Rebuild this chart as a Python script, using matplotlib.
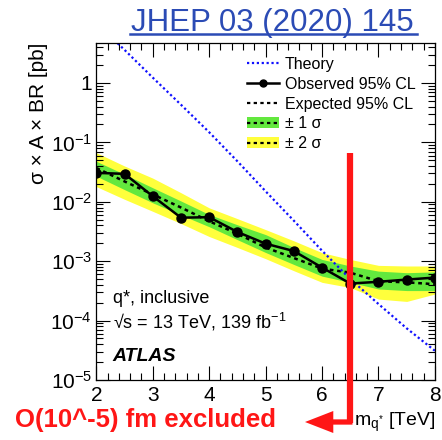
"""
q* limit plot: sigma x A x BR upper limits vs mass, with exclusion arrow
"""

import matplotlib
matplotlib.use('Agg')
import matplotlib.pyplot as plt
from matplotlib.lines import Line2D
from matplotlib.patches import Patch, FancyArrow
from matplotlib.ticker import MultipleLocator, LogLocator, NullFormatter

plt.rcParams['font.family'] = ['Liberation Sans', 'DejaVu Sans']
plt.rcParams['mathtext.fontset'] = 'custom'
plt.rcParams['mathtext.rm'] = 'Liberation Sans'
plt.rcParams['mathtext.it'] = 'Liberation Sans:italic'

# mass points [TeV]
mass = [2.0, 2.5, 3.0, 3.5, 4.0, 4.5, 5.0, 5.5, 6.0, 6.5, 7.0, 7.5, 8.0]

# limits [pb]
observed = [0.0307, 0.0295, 0.0124, 0.0054, 0.0055, 0.0031, 0.00197, 0.00148,
            0.00078, 0.00042, 0.00045, 0.00049, 0.00053]
expected = [0.037, 0.022, 0.0133, 0.0080, 0.0047, 0.0029, 0.0017, 0.00113,
            0.00075, 0.00064, 0.00046, 0.00044, 0.00041]
sigma1_lo = [0.027, 0.016, 0.0096, 0.0060, 0.0038, 0.0023, 0.0014, 0.00088,
             0.00056, 0.00044, 0.00034, 0.00032, 0.00032]
sigma1_hi = [0.048, 0.029, 0.0172, 0.0103, 0.0061, 0.0041, 0.0028, 0.0017,
             0.00107, 0.00083, 0.00068, 0.00064, 0.00066]
sigma2_lo = [0.018, 0.011, 0.0069, 0.0043, 0.0026, 0.0017, 0.0011, 0.00069,
             0.00044, 0.00036, 0.00023, 0.00021, 0.00028]
sigma2_hi = [0.067, 0.040, 0.025, 0.0142, 0.0079, 0.0052, 0.0034, 0.0022,
             0.00139, 0.00107, 0.00085, 0.00083, 0.00083]
theory = [10.2, 3.6, 1.23, 0.43, 0.148, 0.048, 0.015, 0.0048, 0.0015,
          0.0005, 0.00019, 7.4e-5, 3.1e-5]

excluded_mass = 6.5

green = '#63e83e'
yellow = '#ffff3c'
red = '#ff1616'
blue = '#1010ff'
dots = (0, (1.5, 1.5))

fig = plt.figure(figsize=(4.42, 4.40), dpi=100)
ax = fig.add_axes([0.218, 0.1364, 0.766, 0.767])

ax.fill_between(mass, sigma2_lo, sigma2_hi, color=yellow, lw=0)
ax.fill_between(mass, sigma1_lo, sigma1_hi, color=green, lw=0)
ax.plot(mass, expected, color='black', ls=dots, lw=1.8)
ax.plot(mass, theory, color=blue, ls=(0, (1, 1.2)), lw=1.6)
ax.plot(mass, observed, color='black', lw=1.8, marker='o', ms=6.5)

ax.set_yscale('log')
ax.set_xlim(2, 8)
ax.set_ylim(1e-5, 4.8)

# ATLAS-style ticks: inward on all sides
ax.xaxis.set_major_locator(MultipleLocator(1))
ax.xaxis.set_minor_locator(MultipleLocator(0.2))
ax.yaxis.set_major_locator(LogLocator(base=10, numticks=10))
ax.yaxis.set_minor_locator(LogLocator(base=10, subs=range(2, 10), numticks=20))
ax.yaxis.set_minor_formatter(NullFormatter())
ax.tick_params(which='both', direction='in', top=True, right=True, labelsize=15, width=0.8)
ax.tick_params(which='major', length=10)
ax.tick_params(which='minor', length=5)
ax.tick_params(axis='x', pad=4)
ax.tick_params(axis='y', pad=3)
ax.set_yticks([1e-5, 1e-4, 1e-3, 1e-2, 1e-1, 1])
ax.set_yticklabels([r'$10^{-5}$', r'$10^{-4}$', r'$10^{-3}$', r'$10^{-2}$', r'$10^{-1}$', '1'])
for sp in ax.spines.values():
    sp.set_linewidth(0.9)

ax.set_ylabel('σ × A × BR [pb]', fontsize=15, loc='top', labelpad=2)
fig.text(0.984, 0.032, r'm$_{\mathregular{q^{*}}}$ [TeV]', fontsize=14, ha='right', va='baseline')

# labels inside the frame
ax.text(0.048, 0.228, 'q*, inclusive', transform=ax.transAxes, fontsize=13)
ax.text(0.048, 0.153, r'√s = 13 TeV, 139 fb$^{\mathregular{-1}}$',
        transform=ax.transAxes, fontsize=13)
ax.text(0.048, 0.057, 'ATLAS', transform=ax.transAxes, fontsize=14,
        fontweight='bold', fontstyle='italic')

handles = [
    Line2D([], [], color=blue, ls=(0, (1, 1.2)), lw=1.6),
    Line2D([], [], color='black', lw=1.8, marker='o', ms=5),
    Line2D([], [], color='black', ls=dots, lw=1.6),
    (Patch(color=green, lw=0), Line2D([], [], color='black', ls=dots, lw=1.6)),
    (Patch(color=yellow, lw=0), Line2D([], [], color='black', ls=dots, lw=1.6)),
]
labels = ['Theory', 'Observed 95% CL', 'Expected 95% CL', '± 1 σ', '± 2 σ']
ax.legend(handles, labels, loc='upper left', bbox_to_anchor=(0.445, 0.957), frameon=False,
          fontsize=11.5, handlelength=2.0, handletextpad=0.35, labelspacing=0.3,
          borderpad=0, borderaxespad=0)

# journal reference
fig.text(0.617, 1 - 31.5 / 440, 'JHEP 03 (2020) 145', fontsize=22.5, color='#2b4bb5',
         ha='center', va='baseline')
fig.add_artist(Line2D([130 / 442, 417 / 442], [1 - 34 / 440, 1 - 34 / 440],
                      color='#2b4bb5', lw=1.8))

# exclusion marker: vertical bar at the crossing, then arrow to the left
xf = 0.218 + 0.766 * (excluded_mass - 2) / 6
fig.add_artist(Line2D([xf, xf], [1 - 153 / 440, 1 - 423 / 440], color=red, lw=4.5,
                      solid_capstyle='butt'))
fig.add_artist(FancyArrow(xf + 0.005, 1 - 422 / 440, -(xf - 305 / 442) - 0.005, 0,
                          width=0.012, head_width=0.05, head_length=0.064,
                          length_includes_head=True, color=red, lw=0,
                          transform=fig.transFigure))
fig.text(0.034, 1 - 420 / 440, 'O(10^-5) fm excluded', fontsize=18.5, fontweight='bold',
         color=red, ha='left', va='center')

fig.savefig('out.png', dpi=100)
